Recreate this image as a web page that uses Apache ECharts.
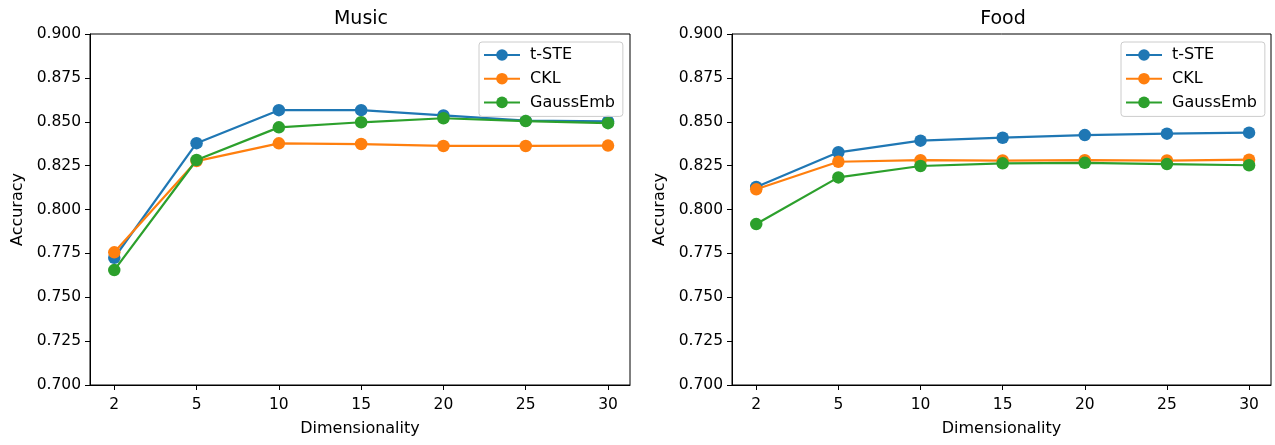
<!DOCTYPE html>
<html><head><meta charset="utf-8">
<script src="https://cdn.jsdelivr.net/npm/echarts@6/dist/echarts.min.js"></script>
<style>html,body{margin:0;padding:0;background:#fff}#c{width:1275px;height:445px}</style>
</head><body><div id="c"></div>
<script>
const dims = ['2','5','10','15','20','25','30'];
const seriesNames = ['t-STE','CKL','GaussEmb'];
const musicTSTE = [0.7725, 0.8378, 0.8566, 0.8566, 0.8536, 0.8506, 0.8502];
const musicCKL  = [0.7756, 0.8276, 0.8377, 0.8373, 0.8362, 0.8362, 0.8364];
const musicGauss= [0.7655, 0.8282, 0.8468, 0.8497, 0.8520, 0.8504, 0.8492];
const foodTSTE  = [0.8128, 0.8326, 0.8392, 0.8409, 0.8424, 0.8432, 0.8438];
const foodCKL   = [0.8115, 0.8272, 0.8281, 0.8279, 0.8281, 0.8279, 0.8284];
const foodGauss = [0.7917, 0.8183, 0.8248, 0.8263, 0.8266, 0.8259, 0.8252];
const yTicks = ['0.700','0.725','0.750','0.775','0.800','0.825','0.850','0.875','0.900'];
const colors = ['#1f77b4','#ff7f0e','#2ca02c'];
const FONT = 'DejaVu Sans';

const chart = echarts.init(document.getElementById('c'), null, {renderer:'canvas'});
const idx = dims.map((d,i)=>i);
function xAxis(gi){
  return {
    type:'value', gridIndex:gi, min:-0.295, max:6.267,
    name:'Dimensionality', nameLocation:'middle', nameGap:36,
    nameTextStyle:{fontFamily:FONT, fontSize:16, color:'#000'},
    axisLine:{show:true, onZero:false, lineStyle:{color:'#000', width:1}},
    axisTick:{show:true, customValues:idx, length:5, lineStyle:{color:'#000'}},
    axisLabel:{customValues:idx, formatter:v=>dims[Math.round(v)], fontFamily:FONT, fontSize:15.5, color:'#000', margin:11.5},
    splitLine:{show:false}
  };
}
function yAxis(gi){
  return {
    type:'value', gridIndex:gi, min:0.7, max:0.9, interval:0.025,
    name:'Accuracy', nameLocation:'middle', nameGap:64, nameRotate:90,
    nameTextStyle:{fontFamily:FONT, fontSize:16, color:'#000'},
    axisLine:{show:true, onZero:false, lineStyle:{color:'#000', width:1}},
    axisTick:{show:true, length:5, lineStyle:{color:'#000'}},
    axisLabel:{formatter:v=>yTicks[Math.round((v-0.7)/0.025)], fontFamily:FONT, fontSize:15.5, color:'#000', margin:9},
    splitLine:{show:false}
  };
}
function mk(name, data, ci, gi){
  return {
    name, type:'line', xAxisIndex:gi, yAxisIndex:gi,
    data:data.map((v,i)=>[i,v]),
    symbol:'circle', symbolSize:12.5, showSymbol:true,
    lineStyle:{color:colors[ci], width:2.2},
    itemStyle:{color:colors[ci]},
    emphasis:{disabled:true}, animation:false, z:2+ci
  };
}
function legend(left){
  return {
    orient:'vertical', left:left, top:42, data:seriesNames,
    backgroundColor:'rgba(255,255,255,0.8)', borderColor:'#cccccc', borderWidth:1, borderRadius:3,
    padding:[5,8,6,4], itemGap:7.7, itemWidth:36, itemHeight:14.5,
    textStyle:{fontFamily:FONT, fontSize:16, lineHeight:16, color:'#000', padding:[0,0,0,5]},
    selectedMode:false
  };
}
chart.setOption({
  animation:false,
  backgroundColor:'#fff',
  title:[
    {text:'Music', left:356, top:5, textAlign:'center', textStyle:{fontFamily:FONT, fontSize:19, fontWeight:'normal', color:'#000'}},
    {text:'Food', left:998, top:5, textAlign:'center', textStyle:{fontFamily:FONT, fontSize:19, fontWeight:'normal', color:'#000'}}
  ],
  grid:[
    {left:90, right:645, top:34, bottom:60, show:true, borderColor:'#000', borderWidth:1, backgroundColor:'transparent'},
    {left:732, right:4, top:34, bottom:60, show:true, borderColor:'#000', borderWidth:1, backgroundColor:'transparent'}
  ],
  legend:[legend(479), legend(1121)],
  xAxis:[xAxis(0), xAxis(1)],
  yAxis:[yAxis(0), yAxis(1)],
  series:[
    mk(seriesNames[0], musicTSTE, 0, 0),
    mk(seriesNames[1], musicCKL, 1, 0),
    mk(seriesNames[2], musicGauss, 2, 0),
    mk(seriesNames[0], foodTSTE, 0, 1),
    mk(seriesNames[1], foodCKL, 1, 1),
    mk(seriesNames[2], foodGauss, 2, 1)
  ]
});
</script></body></html>
